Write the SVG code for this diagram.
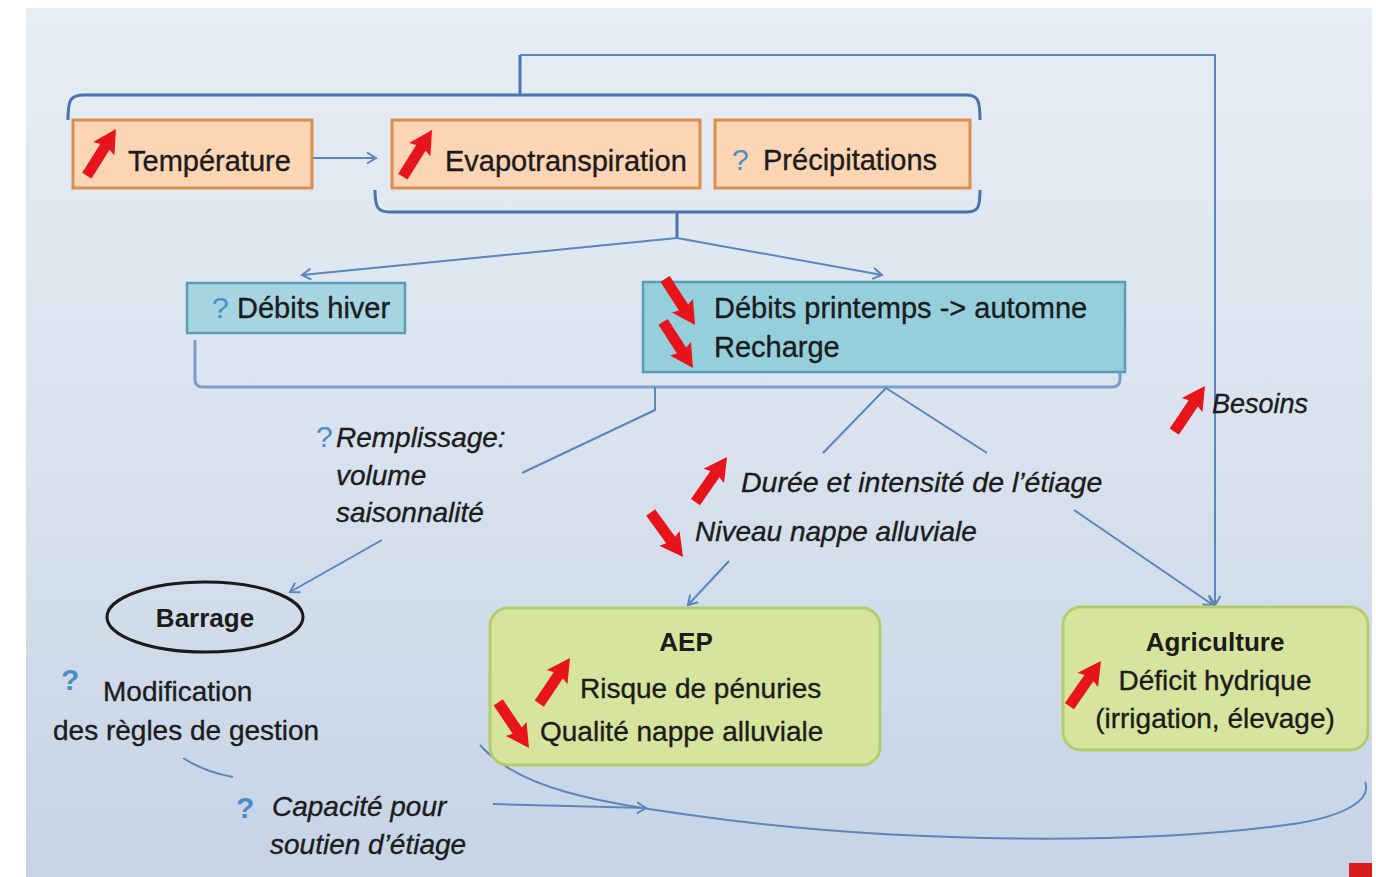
<svg xmlns="http://www.w3.org/2000/svg" width="1376" height="877" viewBox="0 0 1376 877">
  <defs>
    <linearGradient id="bg" x1="0" y1="0" x2="0" y2="1">
      <stop offset="0" stop-color="#e7edf4"/>
      <stop offset="0.5" stop-color="#d9e2ee"/>
      <stop offset="1" stop-color="#c6d4e6"/>
    </linearGradient>
    <marker id="ah" markerWidth="14" markerHeight="14" refX="11" refY="7" orient="auto" markerUnits="userSpaceOnUse">
      <path d="M2,1.5 L11,7 L2,12.5" fill="none" stroke="#5b86bb" stroke-width="2"/>
    </marker>
    <!-- thick red trend arrow, tip at origin, pointing up -->
    <path id="trend" d="M0,0 L12.5,23 L5.5,21 L5.5,55 L-5.5,55 L-5.5,21 L-12.5,23 Z" fill="#e8141c"/>
    <style>
      .t { font-family: "Liberation Sans", Arial, sans-serif; font-size: 28px; fill: #1c1c1c; stroke: #1c1c1c; stroke-width: 0.35px; }
      .it { font-style: italic; }
      .b { font-weight: bold; stroke-width: 0; }
      .q { font-family: "Liberation Sans", Arial, sans-serif; font-size: 30px; fill: #4a8cc8; }
      .orange { fill: #fcd5b4; stroke: #d98f4e; stroke-width: 3; }
      .blue { stroke: #5c9db4; stroke-width: 2.5; }
      .green { fill: #d7e49e; stroke: #b3cd6a; stroke-width: 3; }
      .brace { fill: none; stroke: #4a72ac; stroke-width: 3; }
      .conn { fill: none; stroke: #5b86bb; stroke-width: 2; }
    </style>
  </defs>

  <!-- slide background -->
  <rect x="0" y="0" width="1376" height="877" fill="#ffffff"/>
  <rect x="26" y="8" width="1346" height="869" fill="url(#bg)"/>
  <rect x="1349" y="863" width="23" height="14" fill="#d81e1e"/>

  <!-- connectors -->
  <g id="connectors">
    <path class="brace" d="M68,120 C68,100 70,95 84,95 L966,95 C978,95 980,100 980,120"/>
    <path class="brace" d="M520,95 L520,55"/>
    <path class="conn" d="M520,55 L1215,55 L1215,605" marker-end="url(#ah)"/>
    <path class="conn" d="M312,158 L376,158" marker-end="url(#ah)"/>
    <path class="brace" d="M375,190 C375,208 378,212 390,212 L966,212 C978,212 980,208 980,190"/>
    <path class="brace" d="M677,212 L677,238"/>
    <path class="conn" d="M677,238 L302,275" marker-end="url(#ah)"/>
    <path class="conn" d="M677,238 L882,275" marker-end="url(#ah)"/>
    <path class="conn" d="M195,340 L195,380 Q195,387 203,387 L1112,387 Q1120,387 1120,379 L1120,372" style="stroke:#7a9fcb;stroke-width:3"/>
    <path class="conn" d="M655,387 L655,410 L522,473"/>
    <path class="conn" d="M382,540 L290,592" marker-end="url(#ah)"/>
    <path class="conn" d="M823,453 L886,388 L987,453"/>
    <path class="conn" d="M1074,510 L1213,605" marker-end="url(#ah)"/>
    <path class="conn" d="M729,561 L688,605" marker-end="url(#ah)"/>
    <path class="conn" d="M183,758 Q205,772 233,777"/>
    <path class="conn" d="M493,804 L646,808" marker-end="url(#ah)"/>
    <path class="conn" d="M480,745 C520,790 600,802 690,815 C900,845 1150,845 1300,823 C1345,815 1372,800 1365,782"/>
  </g>

  <!-- climate drivers -->
  <g id="temperature">
    <rect class="orange" x="73" y="120" width="239" height="68"/>
    <use href="#trend" transform="translate(116,129) rotate(32)"/>
    <text class="t" x="128" y="171" style="font-size:29px">Température</text>
  </g>
  <g id="evapotranspiration">
    <rect class="orange" x="392" y="120" width="308" height="68"/>
    <use href="#trend" transform="translate(432,130) rotate(32)"/>
    <text class="t" x="445" y="171" style="font-size:29px">Evapotranspiration</text>
  </g>
  <g id="precipitations">
    <rect class="orange" x="715" y="120" width="255" height="68"/>
    <text class="q" x="732" y="170">?</text>
    <text class="t" x="763" y="170" style="font-size:29px">Précipitations</text>
  </g>

  <!-- river flows -->
  <g id="debits-hiver">
    <rect class="blue" x="187" y="283" width="218" height="50" fill="#a6d4e1"/>
    <text class="q" x="212" y="318">?</text>
    <text class="t" x="237" y="318" style="font-size:29px">Débits hiver</text>
  </g>
  <g id="debits-printemps">
    <rect class="blue" x="643" y="282" width="482" height="90" fill="#96cfdc"/>
    <use href="#trend" transform="translate(695,325) rotate(147)"/>
    <use href="#trend" transform="translate(693,368) rotate(147)"/>
    <text class="t" x="714" y="318" style="font-size:29px">Débits printemps -&gt; automne</text>
    <text class="t" x="714" y="357" style="font-size:29px">Recharge</text>
  </g>

  <!-- intermediate effects -->
  <g id="besoins">
    <use href="#trend" transform="translate(1205,386) rotate(34)"/>
    <text class="t it" x="1212" y="413" style="font-size:27px">Besoins</text>
  </g>
  <g id="remplissage">
    <text class="q" x="316" y="447">?</text>
    <text class="t it" x="336" y="447">Remplissage:</text>
    <text class="t it" x="336" y="485">volume</text>
    <text class="t it" x="336" y="522">saisonnalité</text>
  </g>
  <g id="etiage">
    <use href="#trend" transform="translate(727,457) rotate(35)"/>
    <text class="t it" x="741" y="492" style="font-size:28.5px">Durée et intensité de l’étiage</text>
  </g>
  <g id="nappe">
    <use href="#trend" transform="translate(683,557) rotate(144)"/>
    <text class="t it" x="695" y="541">Niveau nappe alluviale</text>
  </g>

  <!-- dam -->
  <g id="barrage">
    <ellipse cx="205" cy="617" rx="98" ry="35" fill="none" stroke="#1a1a1a" stroke-width="3"/>
    <text class="t b" x="205" y="627" text-anchor="middle" style="font-size:26px">Barrage</text>
  </g>
  <g id="gestion">
    <text class="q" x="61" y="690" style="font-weight:bold">?</text>
    <text class="t" x="103" y="701">Modification</text>
    <text class="t" x="53" y="740">des règles de gestion</text>
  </g>
  <g id="soutien">
    <text class="q" x="236" y="818" style="font-weight:bold">?</text>
    <text class="t it" x="272" y="816">Capacité pour</text>
    <text class="t it" x="270" y="854">soutien d’étiage</text>
  </g>

  <!-- water uses -->
  <g id="aep">
    <rect class="green" x="490" y="608" width="390" height="157" rx="18"/>
    <text class="t b" x="686" y="651" text-anchor="middle" style="font-size:26px">AEP</text>
    <use href="#trend" transform="translate(570,658) rotate(34)"/>
    <text class="t" x="580" y="698">Risque de pénuries</text>
    <use href="#trend" transform="translate(529,748) rotate(146)"/>
    <text class="t" x="540" y="741">Qualité nappe alluviale</text>
  </g>
  <g id="agriculture">
    <rect class="green" x="1063" y="607" width="305" height="143" rx="18"/>
    <text class="t b" x="1215" y="651" text-anchor="middle" style="font-size:26px">Agriculture</text>
    <use href="#trend" transform="translate(1101,661) rotate(35)"/>
    <text class="t" x="1215" y="690" text-anchor="middle">Déficit hydrique</text>
    <text class="t" x="1215" y="728" text-anchor="middle">(irrigation, élevage)</text>
  </g>
</svg>
